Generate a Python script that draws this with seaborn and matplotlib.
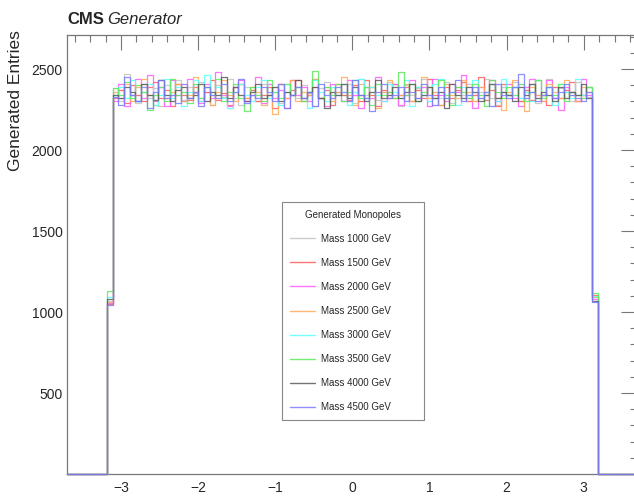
import numpy as np
import pandas as pd
import seaborn as sns
from matplotlib import pyplot as plt
from matplotlib.lines import Line2D
from matplotlib.ticker import MultipleLocator, FuncFormatter

# phi of generated monopoles, 100 bins in [-3.7, 3.7]; only bins 7..92 are filled
masses = [1000, 1500, 2000, 2500, 3000, 3500, 4000, 4500]
colors = ['#c4c4c4', '#ff5a5a', '#ff5aff', '#ffaa5a', '#5affff', '#5aeb5a', '#5a5a5a', '#7a7aff']

edge_left = [1070, 1050, 1055, 1060, 1090, 1130, 1080, 1045]
edge_right = [1090, 1105, 1080, 1095, 1100, 1120, 1070, 1060]

m1000 = [2380, 2300, 2470, 2340, 2290, 2410, 2320, 2380, 2270, 2400, 2340, 2430,
         2310, 2390, 2350, 2420, 2360, 2280, 2400, 2330, 2440, 2320, 2280, 2390,
         2370, 2300, 2410, 2340, 2390, 2290, 2360, 2430, 2320, 2400, 2350, 2270,
         2380, 2420, 2300, 2360, 2340, 2410, 2290, 2440, 2340, 2390, 2310, 2360,
         2420, 2320, 2270, 2400, 2340, 2380, 2440, 2300, 2360, 2320, 2420, 2290,
         2390, 2340, 2410, 2300, 2360, 2440, 2320, 2280, 2390, 2340, 2420, 2300,
         2360, 2410, 2290, 2340, 2440, 2320, 2380, 2360, 2300, 2420, 2340, 2330]
m1500 = [2320, 2370, 2290, 2400, 2340, 2300, 2390, 2420, 2320, 2370, 2270, 2410,
         2340, 2310, 2390, 2300, 2360, 2430, 2310, 2350, 2280, 2390, 2410, 2320,
         2370, 2300, 2340, 2390, 2260, 2410, 2320, 2370, 2430, 2300, 2340, 2390,
         2320, 2370, 2280, 2410, 2340, 2310, 2400, 2300, 2430, 2340, 2270, 2370,
         2320, 2410, 2340, 2390, 2300, 2370, 2320, 2440, 2340, 2280, 2390, 2320,
         2370, 2420, 2300, 2340, 2450, 2310, 2370, 2270, 2410, 2340, 2390, 2300,
         2370, 2310, 2430, 2340, 2280, 2390, 2320, 2370, 2420, 2300, 2340, 2390]
m2000 = [2300, 2410, 2270, 2340, 2440, 2320, 2460, 2300, 2390, 2270, 2430, 2340,
         2300, 2440, 2360, 2290, 2410, 2320, 2480, 2340, 2270, 2390, 2430, 2300,
         2340, 2450, 2290, 2410, 2320, 2370, 2260, 2430, 2340, 2390, 2300, 2440,
         2320, 2270, 2410, 2360, 2300, 2430, 2340, 2260, 2390, 2320, 2450, 2300,
         2360, 2410, 2280, 2340, 2430, 2320, 2390, 2270, 2440, 2340, 2300, 2410,
         2360, 2460, 2320, 2260, 2390, 2340, 2430, 2300, 2360, 2410, 2320, 2270,
         2390, 2440, 2340, 2300, 2430, 2320, 2250, 2390, 2360, 2300, 2440, 2340]
m2500 = [2360, 2320, 2410, 2300, 2390, 2440, 2340, 2280, 2430, 2320, 2360, 2410,
         2300, 2340, 2450, 2320, 2390, 2280, 2360, 2430, 2340, 2300, 2410, 2320,
         2390, 2360, 2280, 2340, 2220, 2410, 2320, 2430, 2300, 2360, 2340, 2440,
         2320, 2390, 2300, 2360, 2450, 2340, 2280, 2410, 2320, 2390, 2260, 2360,
         2430, 2320, 2340, 2410, 2300, 2390, 2450, 2320, 2360, 2280, 2410, 2340,
         2320, 2430, 2360, 2300, 2390, 2340, 2410, 2320, 2250, 2360, 2430, 2320,
         2240, 2390, 2340, 2300, 2410, 2360, 2320, 2430, 2340, 2300, 2390, 2360]
m3000 = [2340, 2390, 2320, 2430, 2300, 2360, 2410, 2280, 2340, 2440, 2320, 2390,
         2270, 2360, 2430, 2300, 2460, 2340, 2390, 2320, 2260, 2360, 2410, 2340,
         2300, 2390, 2430, 2320, 2360, 2280, 2410, 2340, 2390, 2320, 2260, 2430,
         2360, 2300, 2390, 2340, 2410, 2280, 2360, 2440, 2320, 2390, 2340, 2300,
         2410, 2360, 2320, 2430, 2270, 2390, 2340, 2300, 2410, 2440, 2320, 2360,
         2280, 2390, 2340, 2430, 2320, 2360, 2410, 2300, 2440, 2340, 2390, 2320,
         2360, 2300, 2430, 2340, 2390, 2280, 2410, 2360, 2320, 2440, 2340, 2390]
m3500 = [2380, 2340, 2420, 2320, 2400, 2360, 2250, 2340, 2390, 2300, 2440, 2340,
         2360, 2290, 2410, 2320, 2390, 2340, 2440, 2300, 2360, 2410, 2320, 2240,
         2390, 2340, 2300, 2430, 2360, 2320, 2410, 2340, 2390, 2300, 2360, 2490,
         2320, 2390, 2340, 2410, 2300, 2360, 2430, 2320, 2390, 2280, 2410, 2340,
         2360, 2320, 2480, 2340, 2410, 2300, 2360, 2390, 2320, 2430, 2340, 2280,
         2390, 2360, 2320, 2410, 2340, 2270, 2430, 2360, 2320, 2390, 2340, 2410,
         2300, 2360, 2430, 2320, 2390, 2340, 2410, 2300, 2360, 2340, 2320, 2390]
m4000 = [2340, 2320, 2390, 2360, 2300, 2410, 2340, 2310, 2430, 2340, 2300, 2370,
         2390, 2320, 2340, 2410, 2300, 2360, 2340, 2450, 2320, 2390, 2340, 2300,
         2360, 2410, 2320, 2340, 2390, 2300, 2360, 2340, 2430, 2320, 2360, 2390,
         2320, 2260, 2360, 2340, 2410, 2320, 2390, 2340, 2300, 2360, 2430, 2320,
         2340, 2390, 2320, 2360, 2410, 2300, 2340, 2390, 2320, 2360, 2260, 2410,
         2340, 2320, 2390, 2360, 2300, 2340, 2410, 2320, 2360, 2340, 2300, 2390,
         2340, 2410, 2320, 2360, 2340, 2300, 2390, 2320, 2360, 2340, 2410, 2320]
m4500 = [2330, 2280, 2450, 2340, 2300, 2390, 2260, 2360, 2430, 2320, 2340, 2290,
         2410, 2320, 2360, 2270, 2390, 2340, 2320, 2410, 2300, 2360, 2440, 2290,
         2340, 2320, 2390, 2360, 2300, 2410, 2260, 2340, 2390, 2320, 2360, 2270,
         2410, 2340, 2320, 2390, 2360, 2300, 2430, 2340, 2320, 2240, 2360, 2410,
         2320, 2340, 2390, 2300, 2360, 2320, 2410, 2340, 2280, 2390, 2320, 2360,
         2430, 2300, 2340, 2390, 2320, 2360, 2270, 2410, 2340, 2320, 2390, 2470,
         2320, 2360, 2300, 2340, 2390, 2320, 2360, 2410, 2340, 2320, 2300, 2360]

full_bins = [m1000, m1500, m2000, m2500, m3000, m3500, m4000, m4500]

n_bins = 100
phi_range = (-3.7, 3.7)
edges = np.linspace(phi_range[0], phi_range[1], n_bins + 1)
centers = 0.5 * (edges[:-1] + edges[1:])

sns.set_style('white')
plt.rcParams['font.family'] = ['Liberation Sans', 'DejaVu Sans']
plt.rcParams['axes.unicode_minus'] = True

fig = plt.figure(figsize=(6.34, 5.0), dpi=100)
ax = fig.add_axes([67 / 634, 26 / 500, 570.7 / 634, 439 / 500])

for mass, col, lo, hi, vals in zip(masses, colors, edge_left, edge_right, full_bins):
    counts = [0] * 7 + [lo] + vals + [hi] + [0] * 7
    df = pd.DataFrame({'phi': centers, 'n': counts})
    sns.histplot(data=df, x='phi', weights='n', bins=n_bins, binrange=phi_range,
                 element='step', fill=False, color=col, linewidth=0.9,
                 alpha=0.85, clip_on=False, ax=ax)

ax.set_xlim(*phi_range)
ax.set_ylim(0, 2710)
ax.set_xlabel('')
ax.set_ylabel('Generated Entries', fontsize=12.5, loc='top', va='center')
ax.yaxis.set_label_coords(-0.09, 1.012)

ax.xaxis.set_major_locator(MultipleLocator(1))
ax.xaxis.set_minor_locator(MultipleLocator(0.2))
ax.yaxis.set_major_locator(MultipleLocator(500))
ax.yaxis.set_minor_locator(MultipleLocator(100))
ax.yaxis.set_major_formatter(FuncFormatter(lambda v, p: '' if v == 0 else f'{v:.0f}'))

ax.tick_params(which='both', direction='in', top=True, right=True,
               color='#777777', width=0.8, labelsize=10)
ax.tick_params(axis='x', which='major', length=10.5, pad=5)
ax.tick_params(axis='x', which='minor', length=5)
ax.tick_params(axis='y', which='major', length=12, pad=3)
ax.tick_params(axis='y', which='minor', length=6)
for s in ax.spines.values():
    s.set_color('#777777')
    s.set_linewidth(0.9)
    s.set_zorder(1)

handles = [Line2D([], [], color=c, lw=1.0, alpha=0.85) for c in colors]
labels = [f'Mass {m} GeV' for m in masses]
leg = ax.legend(handles, labels, title='Generated Monopoles', fontsize=7,
                title_fontsize=7, loc='upper left',
                bbox_to_anchor=(0.377, 0.62, 0.2485, 0.0), mode='expand',
                borderaxespad=0, handlelength=2.6, handletextpad=0.6,
                labelspacing=1.45, borderpad=0.8, fancybox=False,
                frameon=True, framealpha=1, edgecolor='#888888')
leg.get_frame().set_linewidth(0.8)
leg.set_zorder(5)

fig.text(67 / 634, 1 - 24 / 500, 'CMS', fontsize=12, fontweight='bold', va='baseline')
fig.text(107 / 634, 1 - 24 / 500, 'Generator', fontsize=12, fontstyle='italic', va='baseline')

plt.savefig('out.png', dpi=100)
